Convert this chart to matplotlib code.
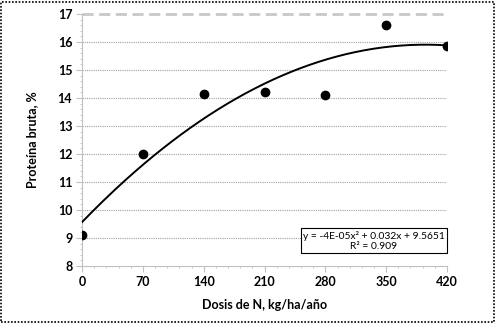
import numpy as np
import matplotlib
matplotlib.use("Agg")
import matplotlib.pyplot as plt
from matplotlib.patches import Rectangle
from matplotlib.ticker import MultipleLocator

# Data
dosis = [0, 70, 140, 210, 280, 350, 420]
proteina = [9.1, 12.0, 14.15, 14.2, 14.1, 16.6, 15.87]
x_ticks = [0, 70, 140, 210, 280, 350, 420]
y_ticks = [8, 9, 10, 11, 12, 13, 14, 15, 16, 17]
eq_text = "y = -4E-05x² + 0.032x + 9.5651\nR² = 0.909"

plt.rcParams['font.family'] = ['Lato', 'DejaVu Sans']

fig = plt.figure(figsize=(4.96, 3.23), dpi=100)
ax = fig.add_axes([82/496, 1-266/323, (447-82)/496, (266-14)/323])

# trend line (2nd order polynomial fit)
coef = np.polyfit(dosis, proteina, 2)
xs = np.linspace(0, 420, 200)
ax.plot(xs, np.polyval(coef, xs), color='black', lw=1.4, zorder=3)
ax.plot(dosis, proteina, 'o', color='black', ms=6, zorder=4)

ax.set_xlim(0, 420)
ax.set_ylim(8, 17)
ax.set_xticks(x_ticks)
ax.set_yticks(y_ticks)
ax.xaxis.set_minor_locator(MultipleLocator(14))
ax.yaxis.set_minor_locator(MultipleLocator(0.2))

for yv in y_ticks[1:-1]:
    ax.axhline(yv, color='#a0a0a0', lw=0.8, ls=(0, (1, 1)), zorder=1)
ax.axhline(17, color='#c8c8c8', lw=2, ls=(0, (4, 2)), zorder=1, clip_on=False)

for s in ['top', 'right']:
    ax.spines[s].set_visible(False)
for s in ['left', 'bottom']:
    ax.spines[s].set_color('#c0c0c0')
    ax.spines[s].set_linewidth(0.8)

ax.tick_params(which='major', length=4, color='#c0c0c0', width=0.8, labelsize=9, pad=3)
ax.tick_params(which='minor', length=1.5, color='#c0c0c0', width=0.6)
for lab in ax.get_xticklabels() + ax.get_yticklabels():
    lab.set_fontweight('bold')

ax.set_xlabel("Dosis de N, kg/ha/año", fontsize=9, fontweight='bold', labelpad=8)
ax.set_ylabel("Proteína bruta, %", fontsize=9, fontweight='bold', labelpad=14)

ax.text(0.994, 0.101, eq_text, transform=ax.transAxes, ha='right', va='center',
        fontsize=7.4, multialignment='center', linespacing=1.15,
        bbox=dict(boxstyle='square,pad=0.22', fc='white', ec='black', lw=0.8), zorder=5)

fig.patches.append(Rectangle((0.003, 0.004), 0.992, 0.991, transform=fig.transFigure,
                             fill=False, ec='black', lw=1.2, ls=(0, (1, 1))))

fig.savefig("out.png", dpi=100)
